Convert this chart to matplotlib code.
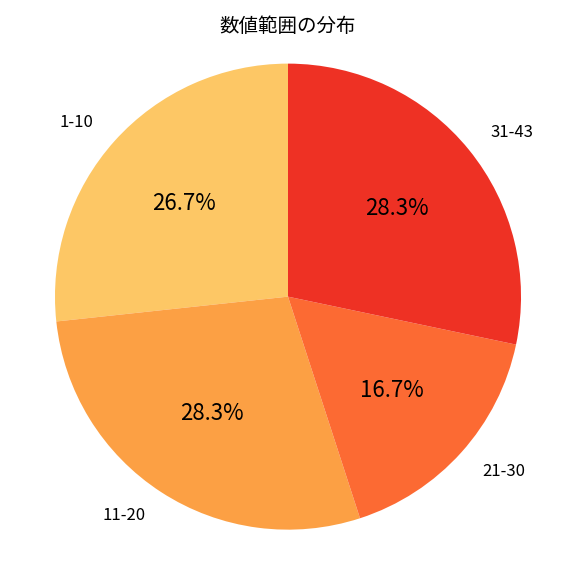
import matplotlib
matplotlib.use("Agg")
import matplotlib.pyplot as plt

plt.rcParams['font.family'] = ['Noto Sans CJK JP', 'DejaVu Sans']

labels = ["1-10", "11-20", "21-30", "31-43"]
values = [26.7, 28.3, 16.7, 28.3]
colors = ["#FDC765", "#FCA044", "#FC6A33", "#EE3124"]

fig, ax = plt.subplots(figsize=(5.76, 5.76), dpi=100)
wedges, texts, autotexts = ax.pie(
    values, labels=labels, colors=colors, startangle=90, counterclock=True,
    autopct="%.1f%%", pctdistance=0.6, labeldistance=1.12,
    textprops={"fontsize": 12},
)
for t in autotexts:
    t.set_fontsize(16)
ax.set_title("数値範囲の分布", fontsize=14, pad=6)
ax.axis("equal")
fig.subplots_adjust(left=0.06, right=0.94, top=0.93, bottom=0.04)
fig.savefig("out.png", dpi=100)
